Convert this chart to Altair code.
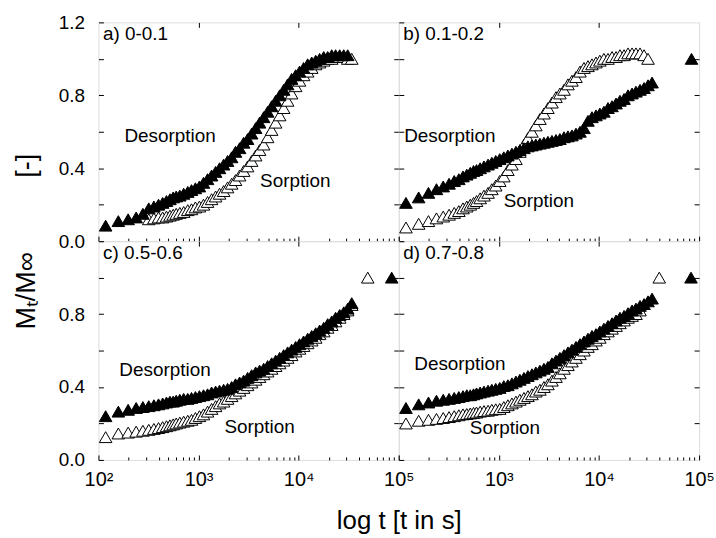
import altair as alt
import pandas as pd

FONT = "Liberation Sans"

# time grid (s) at which the curves were read
T = [118, 158, 198, 238, 278, 318, 358, 398, 438, 478, 518, 558, 598,
     650, 710, 780, 850, 930, 1020, 1120, 1230, 1350, 1480, 1620, 1780,
     1950, 2140, 2340, 2570, 2820, 3090, 3390, 3720, 4070, 4470, 4900,
     5370, 5890, 6460, 7080, 7760, 8510, 9330, 10200, 11200, 12300, 13500,
     14800, 16200, 17800, 19500, 21400, 23400, 25700, 28200, 30900, 33900]

A_DES = [0.085, 0.11, 0.12, 0.13, 0.15, 0.18, 0.19, 0.20, 0.21, 0.22, 0.23, 0.24, 0.245,
         0.25, 0.26, 0.27, 0.28, 0.29, 0.30, 0.32, 0.34, 0.36, 0.38, 0.40, 0.42, 0.44,
         0.46, 0.49, 0.51, 0.54, 0.56, 0.59, 0.62, 0.65, 0.68, 0.71, 0.74, 0.77, 0.80,
         0.83, 0.86, 0.89, 0.91, 0.93, 0.95, 0.97, 0.98, 0.99, 1.00, 1.01, 1.01, 1.02,
         1.02, 1.02, 1.02, 1.02]
A_SORP = [None, None, None, None, None,
          0.12, 0.125, 0.13, 0.13, 0.135, 0.14, 0.145, 0.15, 0.155, 0.16, 0.17, 0.175,
          0.185, 0.19, 0.20, 0.215, 0.23, 0.245, 0.26, 0.275, 0.295, 0.315, 0.335, 0.36,
          0.385, 0.41, 0.44, 0.47, 0.50, 0.53, 0.57, 0.61, 0.65, 0.69, 0.73, 0.77, 0.81,
          0.85, 0.88, 0.91, 0.93, 0.95, 0.97, 0.98, 0.99, 1.00, 1.00, 1.01, 1.01, 1.01,
          1.00, 1.00]
B_DES = [0.21, 0.24, 0.265, 0.285, 0.30, 0.315, 0.33, 0.34, 0.355, 0.365, 0.375, 0.385,
         0.39, 0.40, 0.41, 0.42, 0.43, 0.44, 0.45, 0.46, 0.47, 0.48, 0.49, 0.50, 0.51,
         0.52, 0.525, 0.53, 0.535, 0.54, 0.545, 0.55, 0.555, 0.56, 0.57, 0.575, 0.58,
         0.59, 0.60, 0.62, 0.66, 0.68, 0.69, 0.70, 0.71, 0.73, 0.74, 0.755, 0.77, 0.78,
         0.80, 0.81, 0.82, 0.83, 0.84, 0.855, 0.87]
B_SORP = [0.075, 0.095, 0.11, 0.125, 0.135, 0.145, 0.155, 0.165, 0.18, 0.19, 0.20, 0.21,
          0.22, 0.235, 0.25, 0.265, 0.285, 0.305, 0.33, 0.355, 0.39, 0.42, 0.45, 0.49,
          0.53, 0.565, 0.60, 0.635, 0.67, 0.70, 0.73, 0.76, 0.79, 0.81, 0.83, 0.86, 0.88,
          0.90, 0.93, 0.95, 0.96, 0.97, 0.98, 0.99, 1.00, 1.00, 1.01, 1.01, 1.02, 1.02,
          1.03, 1.03, 1.03, 1.03, 1.02, 1.00]
C_DES = [0.24, 0.265, 0.275, 0.285, 0.29, 0.295, 0.30, 0.305, 0.31, 0.315, 0.32, 0.32,
         0.325, 0.33, 0.335, 0.335, 0.34, 0.345, 0.35, 0.355, 0.36, 0.37, 0.375, 0.38,
         0.385, 0.39, 0.40, 0.415, 0.425, 0.435, 0.45, 0.465, 0.48, 0.49, 0.50, 0.515,
         0.53, 0.545, 0.56, 0.575, 0.59, 0.605, 0.62, 0.635, 0.65, 0.665, 0.68, 0.695,
         0.71, 0.725, 0.745, 0.76, 0.78, 0.795, 0.81, 0.83, 0.86]
C_SORP = [0.125, 0.145, 0.15, 0.155, 0.16, 0.165, 0.17, 0.175, 0.18, 0.185, 0.19, 0.195,
          0.20, 0.205, 0.21, 0.215, 0.22, 0.23, 0.24, 0.25, 0.265, 0.28, 0.295, 0.31,
          0.32, 0.335, 0.35, 0.365, 0.38, 0.395, 0.41, 0.425, 0.44, 0.455, 0.47, 0.485,
          0.50, 0.515, 0.53, 0.545, 0.56, 0.575, 0.595, 0.61, 0.625, 0.64, 0.655, 0.67,
          0.69, 0.705, 0.725, 0.74, 0.76, 0.78, 0.80, 0.82, 0.85]
D_DES = [0.285, 0.305, 0.315, 0.325, 0.33, 0.335, 0.34, 0.345, 0.35, 0.355, 0.355, 0.36,
         0.365, 0.37, 0.375, 0.38, 0.385, 0.39, 0.395, 0.405, 0.41, 0.42, 0.43, 0.44,
         0.45, 0.46, 0.47, 0.48, 0.49, 0.50, 0.51, 0.53, 0.545, 0.56, 0.575, 0.59, 0.605,
         0.62, 0.635, 0.65, 0.665, 0.68, 0.69, 0.705, 0.72, 0.735, 0.75, 0.765, 0.78,
         0.79, 0.805, 0.82, 0.83, 0.845, 0.855, 0.87, 0.885]
D_SORP = [0.20, 0.215, 0.22, 0.225, 0.23, 0.235, 0.24, 0.245, 0.25, 0.252, 0.255, 0.258,
          0.26, 0.265, 0.268, 0.27, 0.275, 0.278, 0.28, 0.29, 0.30, 0.31, 0.32, 0.33,
          0.34, 0.35, 0.36, 0.375, 0.385, 0.40, 0.415, 0.435, 0.455, 0.475, 0.50, 0.52,
          0.54, 0.56, 0.58, 0.60, 0.62, 0.635, 0.655, 0.67, 0.69, 0.705, 0.72, 0.735,
          0.75, 0.765, 0.78, 0.79, 0.80, 0.82]

# final equilibrium points plotted at the right edge
EXTRA_PANEL = ["b", "c", "c", "d", "d"]
EXTRA_KIND = ["Desorption", "Sorption", "Desorption", "Sorption", "Desorption"]
EXTRA_T = [84000, 49000, 85000, 40000, 83000]
EXTRA_Y = [1.0, 1.0, 1.0, 1.0, 1.0]

PANEL_KEYS = ["a", "b", "c", "d"]
PANEL_TITLES = ["a) 0-0.1", "b) 0.1-0.2", "c) 0.5-0.6", "d) 0.7-0.8"]
SERIES = {"a": (A_SORP, A_DES), "b": (B_SORP, B_DES),
          "c": (C_SORP, C_DES), "d": (D_SORP, D_DES)}
DES_T = [519, 324, 462, 408]
DES_Y = [0.577, 0.574, 0.495, 0.527]
SORP_T = [9250, 2510, 4070, 1150]
SORP_Y = [0.331, 0.222, 0.181, 0.173]
TAG_T = 111
TAG_Y = 1.135

X_MAJOR = [100, 1000, 10000, 100000]
X_MINOR = [200, 300, 400, 500, 600, 700, 800, 900,
           2000, 3000, 4000, 5000, 6000, 7000, 8000, 9000,
           20000, 30000, 40000, 50000, 60000, 70000, 80000, 90000]
Y_TICKS = [0, 0.2, 0.4, 0.6, 0.8, 1.0, 1.2]
Y_INNER = [0.2, 0.4, 0.6, 0.8, 1.0]

Y_TITLE = "M\u209c/M\u221e" + "\u00a0" * 10 + "[-]"
X_TITLE = "log t [t in s]"

MARK_SIZE = 160


def build_df(key):
    sorp, des = SERIES[key]
    rows = []
    for t, v in zip(T, des):
        if v is not None:
            rows.append({"t": t, "y": v, "kind": "Desorption"})
    for t, v in zip(T, sorp):
        if v is not None:
            rows.append({"t": t, "y": v, "kind": "Sorption"})
    for p, k, t, v in zip(EXTRA_PANEL, EXTRA_KIND, EXTRA_T, EXTRA_Y):
        if p == key:
            rows.append({"t": t, "y": v, "kind": k})
    return pd.DataFrame(rows)


def xenc(axis):
    return alt.X("t:Q", scale=alt.Scale(type="log", domain=[100, 100000], nice=False),
                 axis=axis)


def yenc(axis):
    return alt.Y("y:Q", scale=alt.Scale(domain=[0, 1.2], nice=False, zero=False),
                 axis=axis)


def panel(i):
    key = PANEL_KEYS[i]
    col = i % 2
    row = i // 2
    df = build_df(key)
    des = df[df["kind"] == "Desorption"]
    sor = df[df["kind"] == "Sorption"]

    # main axes: bottom major ticks + left ticks
    xkw = dict(orient="bottom", values=X_MAJOR, tickSize=5, offset=-5, domain=False,
               grid=False, tickColor="black", tickWidth=1)
    if row == 1:
        if col == 0:
            lab = ("datum.value == 100 ? '10\u00b2' : datum.value == 1000 ? '10\u00b3' : "
                   "datum.value == 10000 ? '10\u2074' : '10\u2075'")
        else:
            lab = ("datum.value == 100 ? '' : datum.value == 1000 ? '10\u00b3' : "
                   "datum.value == 10000 ? '10\u2074' : '10\u2075'")
        xkw.update(labels=True, labelExpr=lab, labelFont=FONT, labelFontSize=20,
                   labelColor="black", labelPadding=10, labelOverlap=False,
                   labelFlush=False)
    else:
        xkw.update(labels=False)
    if row == 1 and col == 0:
        xkw.update(title=X_TITLE, titleFont=FONT, titleFontSize=26,
                   titleFontWeight="normal", titleColor="black", titleX=302,
                   titleY=66, titleAlign="center", titleBaseline="middle", titleAngle=0)
    else:
        xkw.update(title=None)

    ykw = dict(orient="left", values=Y_TICKS, tickSize=5, offset=-5, domain=False,
               grid=False, tickColor="black", tickWidth=1)
    if col == 0:
        if row == 0:
            lab = ("datum.value == 1.2 ? '1.2' : datum.value == 0.8 ? '0.8' : "
                   "datum.value == 0.4 ? '0.4' : datum.value == 0 ? '0.0' : ''")
        else:
            lab = ("datum.value == 0.8 ? '0.8' : datum.value == 0.4 ? '0.4' : "
                   "datum.value == 0 ? '0.0' : ''")
        ykw.update(labels=True, labelExpr=lab, labelFont=FONT, labelFontSize=19,
                   labelColor="black", labelPadding=14, labelOverlap=False,
                   labelFlush=False)
    else:
        ykw.update(labels=False)
    if row == 0 and col == 0:
        ykw.update(title=Y_TITLE, titleFont=FONT, titleFontSize=27,
                   titleFontWeight="normal", titleColor="black", titleX=-77,
                   titleY=220, titleAlign="center", titleBaseline="middle",
                   titleAngle=270)
    else:
        ykw.update(title=None)

    des_layer = alt.Chart(des).mark_point(
        shape="triangle-up", filled=True, fill="black", stroke="black",
        strokeWidth=1, size=MARK_SIZE, opacity=1
    ).encode(x=xenc(alt.Axis(**xkw)), y=yenc(alt.Axis(**ykw)))

    sor_layer = alt.Chart(sor).mark_point(
        shape="triangle-up", filled=True, fill="white", stroke="black",
        strokeWidth=1, size=MARK_SIZE, opacity=1
    ).encode(x=xenc(None), y=yenc(None))

    minor_layer = alt.Chart(df).mark_point(opacity=0).encode(
        x=xenc(alt.Axis(orient="bottom", values=X_MINOR, tickSize=3, offset=-3,
                        labels=False, domain=False, grid=False, title=None,
                        tickColor="black", tickWidth=1)),
        y=yenc(alt.Axis(orient="right", values=Y_INNER, tickSize=5, offset=-5,
                        labels=False, domain=False, grid=False, title=None,
                        tickColor="black", tickWidth=1)),
    )
    top_layer = alt.Chart(df).mark_point(opacity=0).encode(
        x=xenc(alt.Axis(orient="top", values=[1000, 10000], tickSize=5, offset=-5,
                        labels=False, domain=False, grid=False, title=None,
                        tickColor="black", tickWidth=1)),
        y=yenc(None),
    )

    txt = pd.DataFrame({
        "t": [DES_T[i], SORP_T[i]],
        "y": [DES_Y[i], SORP_Y[i]],
        "label": ["Desorption", "Sorption"],
    })
    text_layer = alt.Chart(txt).mark_text(
        font=FONT, fontSize=19, align="center", baseline="middle", color="black"
    ).encode(x=xenc(None), y=yenc(None), text="label:N")

    tag = pd.DataFrame({"t": [TAG_T], "y": [TAG_Y], "label": [PANEL_TITLES[i]]})
    tag_layer = alt.Chart(tag).mark_text(
        font=FONT, fontSize=19, align="left", baseline="middle", color="black"
    ).encode(x=xenc(None), y=yenc(None), text="label:N")

    # sorption (open) below, desorption (filled) on top
    return alt.layer(
        minor_layer, top_layer, sor_layer, des_layer, text_layer, tag_layer
    ).resolve_axis(x="independent", y="independent").properties(width=302, height=220)


chart = alt.concat(
    *[panel(i) for i in range(4)], columns=2, spacing=0, bounds="flush"
).resolve_scale(
    x="independent", y="independent"
).properties(
    padding={"left": 12, "top": 11, "right": 1, "bottom": 2},
    background="white",
).configure_view(
    stroke="black", strokeWidth=1
).configure(font=FONT)

chart.save("out.html", embed_options={"renderer": "svg", "actions": False})
